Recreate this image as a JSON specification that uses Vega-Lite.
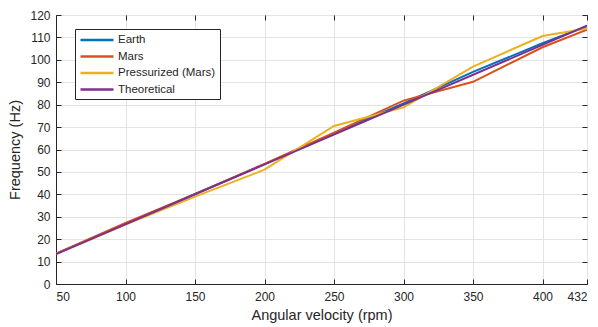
{
  "$schema": "https://vega.github.io/schema/vega-lite/v6.json",
  "width": 531,
  "height": 269,
  "autosize": {"type": "none"},
  "padding": {"left": 56, "top": 15, "right": 11, "bottom": 43},
  "config": {
    "font": "Liberation Sans",
    "view": {"stroke": "#262626", "strokeWidth": 1},
    "axis": {
      "labelFont": "Liberation Sans",
      "titleFont": "Liberation Sans",
      "labelFontSize": 12,
      "titleFontSize": 14.5,
      "titleFontWeight": "normal",
      "labelColor": "#262626",
      "titleColor": "#262626",
      "gridColor": "#e3e3e3",
      "gridOpacity": 1,
      "tickColor": "#262626",
      "domainColor": "#262626",
      "tickSize": -5,
      "labelPadding": 10
    },
    "legend": {
      "labelFont": "Liberation Sans",
      "labelFontSize": 11.5,
      "labelColor": "#262626"
    }
  },
  "data": {
    "values": [
      {"rpm": 50, "freq": 13.5, "series": "Earth"},
      {"rpm": 100, "freq": 26.8, "series": "Earth"},
      {"rpm": 150, "freq": 40.2, "series": "Earth"},
      {"rpm": 200, "freq": 53.5, "series": "Earth"},
      {"rpm": 250, "freq": 67.2, "series": "Earth"},
      {"rpm": 300, "freq": 80.6, "series": "Earth"},
      {"rpm": 350, "freq": 94.6, "series": "Earth"},
      {"rpm": 400, "freq": 107.4, "series": "Earth"},
      {"rpm": 432, "freq": 115, "series": "Earth"},
      {"rpm": 50, "freq": 13.6, "series": "Mars"},
      {"rpm": 100, "freq": 27.2, "series": "Mars"},
      {"rpm": 150, "freq": 40.1, "series": "Mars"},
      {"rpm": 200, "freq": 53.6, "series": "Mars"},
      {"rpm": 250, "freq": 67.5, "series": "Mars"},
      {"rpm": 300, "freq": 81.8, "series": "Mars"},
      {"rpm": 350, "freq": 90.2, "series": "Mars"},
      {"rpm": 400, "freq": 105.6, "series": "Mars"},
      {"rpm": 432, "freq": 113.4, "series": "Mars"},
      {"rpm": 50, "freq": 13.4, "series": "Pressurized (Mars)"},
      {"rpm": 100, "freq": 26.5, "series": "Pressurized (Mars)"},
      {"rpm": 150, "freq": 39, "series": "Pressurized (Mars)"},
      {"rpm": 200, "freq": 51, "series": "Pressurized (Mars)"},
      {"rpm": 250, "freq": 70.5, "series": "Pressurized (Mars)"},
      {"rpm": 300, "freq": 78.8, "series": "Pressurized (Mars)"},
      {"rpm": 350, "freq": 97, "series": "Pressurized (Mars)"},
      {"rpm": 400, "freq": 110.6, "series": "Pressurized (Mars)"},
      {"rpm": 432, "freq": 114, "series": "Pressurized (Mars)"},
      {"rpm": 50, "freq": 13.3, "series": "Theoretical"},
      {"rpm": 432, "freq": 115.2, "series": "Theoretical"}
    ]
  },
  "layer": [
    {
      "mark": {"type": "line", "strokeWidth": 2, "clip": true},
      "encoding": {
        "x": {
          "field": "rpm", "type": "quantitative",
          "scale": {"domain": [50, 432], "nice": false, "zero": false},
          "axis": {"title": "Angular velocity (rpm)", "values": [50, 100, 150, 200, 250, 300, 350, 400, 432], "titlePadding": 6, "labelPadding": 12}
        },
        "y": {
          "field": "freq", "type": "quantitative",
          "scale": {"domain": [0, 120], "nice": false},
          "axis": {"title": "Frequency (Hz)", "values": [0, 10, 20, 30, 40, 50, 60, 70, 80, 90, 100, 110, 120], "titlePadding": 7, "labelPadding": 11}
        },
        "color": {
          "field": "series", "type": "nominal",
          "scale": {"domain": ["Earth", "Mars", "Pressurized (Mars)", "Theoretical"], "range": ["#0072BD", "#D95319", "#EDB120", "#7E2F8E"]},
          "legend": {
            "title": null, "orient": "none", "legendX": 19, "legendY": 14,
            "fillColor": "white", "strokeColor": "#262626", "padding": 4,
            "symbolType": "M-1,0H5", "symbolSize": 121, "symbolStrokeWidth": 2.5,
            "labelOffset": 25, "rowPadding": 3.5
          }
        },
        "order": {"field": "series"}
      }
    },
    {
      "mark": {"type": "line", "strokeOpacity": 0},
      "encoding": {
        "x": {"field": "rpm", "type": "quantitative", "axis": {"orient": "top", "labels": false, "grid": false, "title": null, "domain": false, "values": [50, 100, 150, 200, 250, 300, 350, 400, 432]}},
        "y": {"field": "freq", "type": "quantitative", "axis": {"orient": "right", "labels": false, "grid": false, "title": null, "domain": false, "values": [0, 10, 20, 30, 40, 50, 60, 70, 80, 90, 100, 110, 120]}},
        "detail": {"field": "series"}
      }
    }
  ],
  "resolve": {"axis": {"x": "independent", "y": "independent"}}
}
